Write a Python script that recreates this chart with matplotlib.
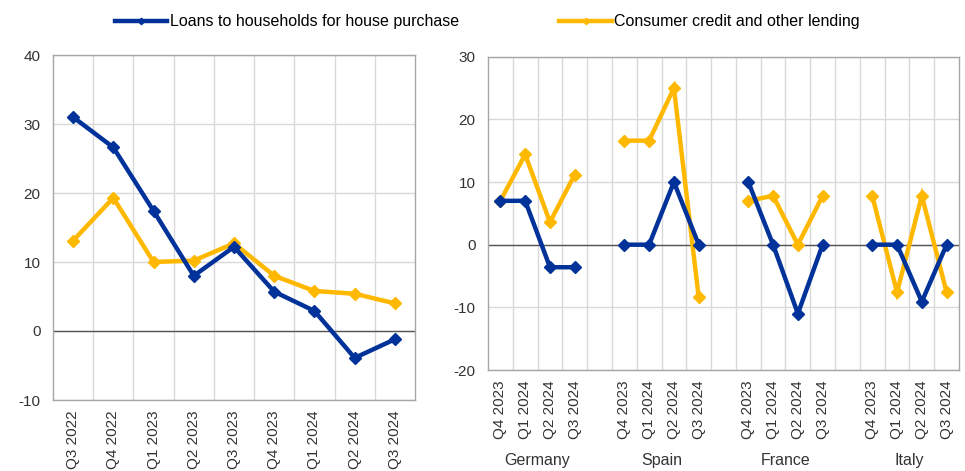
import matplotlib
matplotlib.use("Agg")
import matplotlib.pyplot as plt
import numpy as np

plt.rcParams['font.family'] = ['Liberation Sans', 'DejaVu Sans']
plt.rcParams['axes.unicode_minus'] = False

BLUE = "#003299"
YELLOW = "#FFB800"

# Left panel: euro area
quarters_left = ["Q3 2022", "Q4 2022", "Q1 2023", "Q2 2023", "Q3 2023",
                 "Q4 2023", "Q1 2024", "Q2 2024", "Q3 2024"]
house_left = [31.0, 26.6, 17.4, 8.0, 12.2, 5.7, 2.9, -3.9, -1.2]
consumer_left = [13.1, 19.3, 10.0, 10.2, 12.7, 8.0, 5.8, 5.4, 4.0]

# Right panel: countries
countries = ["Germany", "Spain", "France", "Italy"]
quarters_right = ["Q4 2023", "Q1 2024", "Q2 2024", "Q3 2024"]
house_right = {
    "Germany": [7.0, 7.0, -3.6, -3.6],
    "Spain": [0.0, 0.0, 10.0, 0.0],
    "France": [10.0, 0.0, -11.0, 0.0],
    "Italy": [0.0, 0.0, -9.1, 0.0],
}
consumer_right = {
    "Germany": [7.0, 14.4, 3.6, 11.2],
    "Spain": [16.6, 16.6, 25.0, -8.4],
    "France": [7.0, 7.8, 0.0, 7.8],
    "Italy": [7.8, -7.6, 7.8, -7.6],
}

fig = plt.figure(figsize=(9.65, 4.71), dpi=100)
ax1 = fig.add_axes([53/965, 1-400/471, 362/965, 345/471])
ax2 = fig.add_axes([488/965, 1-370/471, 471/965, 313.3/471])

GRID = "#d9d9d9"
SPINE = "#a6a6a6"
line_kw = dict(lw=3.2, marker="D", ms=6.5, solid_joinstyle="miter")


def style(ax):
    for s in ax.spines.values():
        s.set_color(SPINE)
        s.set_linewidth(1)
    ax.tick_params(axis="both", length=0, labelsize=11, colors="#333333")
    ax.tick_params(axis="x", pad=7.5)
    ax.tick_params(axis="y", pad=9)
    ax.tick_params(axis="x", which="minor", length=0)
    ax.grid(True, axis="y", which="major", color=GRID, lw=1)
    ax.grid(True, axis="x", which="minor", color=GRID, lw=1)
    ax.set_axisbelow(True)
    ax.axhline(0, color="#555555", lw=1, zorder=1.5)


# Left panel
x1 = np.arange(len(quarters_left))
ax1.plot(x1, house_left, color=BLUE, label="Loans to households for house purchase", **line_kw, zorder=3)
ax1.plot(x1, consumer_left, color=YELLOW, label="Consumer credit and other lending", **line_kw, zorder=2)
ax1.set_xlim(-0.5, len(quarters_left) - 0.5)
ax1.set_ylim(-10, 40)
ax1.set_yticks([-10, 0, 10, 20, 30, 40])
ax1.set_xticks(x1)
ax1.set_xticklabels(quarters_left, rotation=90)
ax1.set_xticks(np.arange(0.5, len(quarters_left) - 0.5, 1), minor=True)
style(ax1)

# Right panel
positions = []
labels = []
for i, c in enumerate(countries):
    xs = np.arange(4) + i * 5
    positions.extend(xs)
    labels.extend(quarters_right)
    ax2.plot(xs, consumer_right[c], color=YELLOW, **line_kw, zorder=2)
    ax2.plot(xs, house_right[c], color=BLUE, **line_kw, zorder=3)
ax2.set_xlim(-0.5, 18.5)
ax2.set_ylim(-20, 30)
ax2.set_yticks([-20, -10, 0, 10, 20, 30])
ax2.set_xticks(positions)
ax2.set_xticklabels(labels, rotation=90)
ax2.set_xticks(np.arange(0.5, 18.5, 1), minor=True)
style(ax2)
for i, c in enumerate(countries):
    ax2.text(i * 5 + 1.5, -0.29, c, transform=ax2.get_xaxis_transform(),
             ha="center", va="center", fontsize=11.5, color="#333333")

h, l = ax1.get_legend_handles_labels()
fig.legend(h, l, loc="upper center", bbox_to_anchor=(0.505, 1.0), ncol=2,
           frameon=False, fontsize=11.5, handlelength=3.3, columnspacing=6.3,
           handletextpad=0.15, markerscale=0.5)

fig.savefig("out.png", dpi=100)
